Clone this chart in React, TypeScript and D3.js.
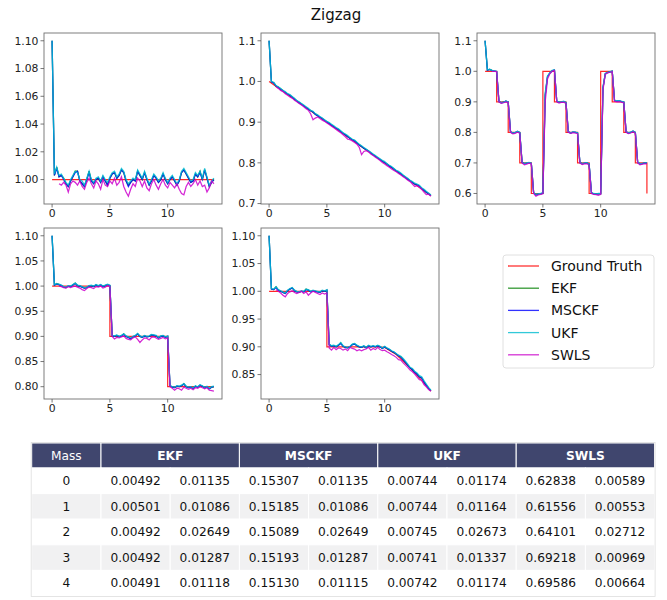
import React from 'react';
import * as d3 from 'd3';

// sample times shared by every estimate series (0 .. 14 s, 0.2 s apart)
const times = d3.range(71).map(i => +(i * 0.2).toFixed(1));

const seriesNames = ['Ground Truth', 'EKF', 'MSCKF', 'UKF', 'SWLS'];
const seriesColors = ['#ff0000', '#008000', '#0000ff', '#00bcd0', '#cc00cc'];

// ---- panel 1 : constant ----
const truth1T = [0, 14];
const truth1V = [1.0, 1.0];
const ukf1 = [
  1.100, 1.004, 1.009, 1.003, 1.004, 1.001, 0.998, 0.996, 1.000, 1.003,
  1.006, 1.005, 1.000, 0.999, 0.996, 1.001, 1.006, 1.000, 0.998, 1.001,
  1.002, 0.999, 1.003, 1.000, 0.998, 1.002, 1.005, 1.006, 1.002, 1.004,
  1.008, 1.006, 1.000, 0.997, 0.999, 1.001, 1.000, 1.007, 1.004, 1.001,
  1.006, 1.001, 0.997, 1.000, 1.004, 1.002, 0.999, 1.001, 1.005, 1.001,
  0.998, 1.001, 1.003, 1.000, 0.997, 1.000, 1.006, 1.008, 1.005, 1.002,
  0.999, 1.000, 1.005, 1.003, 1.006, 1.001, 1.008, 1.002, 0.996, 0.999,
  1.001];
const msckf1 = [
  1.100, 1.003, 1.008, 1.002, 1.003, 1.000, 0.997, 0.995, 0.999, 1.002,
  1.005, 1.006, 0.999, 0.997, 0.995, 1.000, 1.005, 0.999, 0.997, 1.000,
  1.001, 0.998, 1.002, 0.999, 0.996, 1.001, 1.004, 1.005, 1.001, 1.003,
  1.007, 1.005, 0.999, 0.995, 0.998, 1.000, 0.999, 1.006, 1.003, 1.000,
  1.005, 1.000, 0.996, 0.999, 1.003, 1.001, 0.998, 1.000, 1.004, 1.000,
  0.997, 1.000, 1.002, 0.999, 0.996, 0.999, 1.005, 1.007, 1.004, 1.001,
  0.998, 0.999, 1.004, 1.002, 1.005, 1.000, 1.007, 1.001, 0.995, 0.998,
  1.000];
const ekf1 = [
  1.100, 1.003, 1.009, 1.002, 1.003, 1.001, 0.997, 0.995, 0.999, 1.002,
  1.006, 1.006, 0.999, 0.997, 0.995, 1.000, 1.006, 0.999, 0.997, 1.000,
  1.001, 0.998, 1.002, 0.999, 0.996, 1.001, 1.004, 1.005, 1.001, 1.003,
  1.007, 1.005, 0.999, 0.996, 0.998, 1.000, 0.999, 1.006, 1.003, 1.000,
  1.005, 1.000, 0.996, 0.999, 1.003, 1.001, 0.998, 1.000, 1.004, 1.000,
  0.997, 1.000, 1.002, 0.999, 0.996, 0.999, 1.005, 1.007, 1.004, 1.001,
  0.998, 0.999, 1.004, 1.002, 1.006, 1.000, 1.007, 1.001, 0.995, 0.998,
  1.000];
const swls1 = [
  null, null, null, 0.997, 0.996, 0.998, 0.996, 0.991, 0.997, 0.999,
  0.998, 0.996, 0.999, 0.995, 0.993, 0.998, 1.001, 0.997, 0.994, 0.999,
  0.997, 0.993, 1.000, 0.996, 0.995, 0.999, 0.997, 1.001, 0.996, 0.998,
  1.002, 0.995, 0.991, 0.988, 0.993, 0.997, 0.995, 1.001, 0.999, 0.995,
  0.999, 0.994, 0.992, 0.997, 1.000, 0.996, 0.993, 0.997, 1.000, 0.996,
  0.994, 0.998, 0.996, 0.994, 0.997, 0.993, 0.990, 0.989, 0.995, 0.998,
  0.995, 0.997, 1.000, 0.996, 0.999, 0.995, 0.996, 0.991, 0.994, 0.999,
  0.997];

// ---- panel 2 : ramp ----
const truth2T = [0, 14];
const truth2V = [1.0, 0.72];
const ukf2 = [
  1.100, 1.000, 0.998, 0.990, 0.987, 0.983, 0.978, 0.975, 0.970, 0.968,
  0.963, 0.959, 0.953, 0.950, 0.946, 0.942, 0.938, 0.934, 0.929, 0.927,
  0.921, 0.918, 0.914, 0.910, 0.906, 0.902, 0.899, 0.895, 0.891, 0.887,
  0.884, 0.879, 0.874, 0.871, 0.867, 0.862, 0.858, 0.856, 0.851, 0.846,
  0.842, 0.838, 0.834, 0.830, 0.826, 0.822, 0.818, 0.814, 0.810, 0.806,
  0.803, 0.798, 0.794, 0.791, 0.786, 0.782, 0.779, 0.775, 0.770, 0.766,
  0.762, 0.757, 0.754, 0.750, 0.748, 0.745, 0.739, 0.735, 0.730, 0.726,
  0.721];
const msckf2 = [
  1.100, 0.999, 0.996, 0.989, 0.986, 0.981, 0.977, 0.973, 0.969, 0.966,
  0.961, 0.957, 0.952, 0.948, 0.944, 0.940, 0.936, 0.932, 0.928, 0.925,
  0.919, 0.916, 0.912, 0.909, 0.904, 0.900, 0.897, 0.893, 0.889, 0.885,
  0.882, 0.877, 0.873, 0.869, 0.865, 0.860, 0.857, 0.854, 0.849, 0.844,
  0.840, 0.836, 0.832, 0.829, 0.824, 0.820, 0.816, 0.812, 0.808, 0.804,
  0.801, 0.797, 0.792, 0.789, 0.785, 0.780, 0.777, 0.773, 0.768, 0.764,
  0.760, 0.756, 0.752, 0.748, 0.746, 0.743, 0.737, 0.733, 0.728, 0.724,
  0.720];
const ekf2 = [
  1.100, 0.999, 0.997, 0.989, 0.986, 0.982, 0.977, 0.973, 0.969, 0.966,
  0.962, 0.957, 0.952, 0.948, 0.945, 0.940, 0.936, 0.932, 0.928, 0.925,
  0.920, 0.916, 0.912, 0.909, 0.904, 0.901, 0.897, 0.893, 0.889, 0.885,
  0.882, 0.877, 0.873, 0.869, 0.865, 0.861, 0.857, 0.854, 0.849, 0.845,
  0.840, 0.836, 0.833, 0.829, 0.824, 0.820, 0.816, 0.812, 0.808, 0.804,
  0.801, 0.797, 0.793, 0.789, 0.785, 0.780, 0.777, 0.773, 0.769, 0.764,
  0.760, 0.756, 0.752, 0.748, 0.746, 0.743, 0.737, 0.733, 0.728, 0.724,
  0.720];
const swls2 = [
  null, null, null, 0.987, 0.983, 0.978, 0.975, 0.970, 0.966, 0.962,
  0.959, 0.954, 0.950, 0.946, 0.942, 0.938, 0.933, 0.929, 0.920, 0.906,
  0.910, 0.913, 0.909, 0.905, 0.902, 0.898, 0.894, 0.890, 0.886, 0.882,
  0.878, 0.874, 0.869, 0.864, 0.858, 0.857, 0.854, 0.850, 0.846, 0.838,
  0.820, 0.828, 0.830, 0.827, 0.822, 0.818, 0.814, 0.810, 0.806, 0.801,
  0.797, 0.793, 0.789, 0.785, 0.781, 0.778, 0.774, 0.770, 0.766, 0.762,
  0.757, 0.754, 0.748, 0.742, 0.744, 0.740, 0.735, 0.728, 0.722, 0.723,
  0.718];

// ---- panel 3 : zigzag ----
const truth3T = [0, 1, 1, 2, 2, 3, 3, 4, 4, 5, 5, 6, 6, 7, 7, 8, 8, 9, 9, 10, 10, 11, 11, 12, 12, 13, 13, 14, 14];
const truth3V = [1.0, 1.0, 0.9, 0.9, 0.8, 0.8, 0.7, 0.7, 0.6, 0.6, 1.0, 1.0, 0.9, 0.9, 0.8, 0.8, 0.7, 0.7, 0.6, 0.6, 1.0, 1.0, 0.9, 0.9, 0.8, 0.8, 0.7, 0.7, 0.6];
const ukf3 = [
  1.100, 1.005, 1.007, 1.003, 1.002, 1.000, 0.902, 0.898, 0.899, 0.903,
  0.900, 0.803, 0.798, 0.800, 0.804, 0.800, 0.703, 0.698, 0.700, 0.702,
  0.699, 0.603, 0.597, 0.599, 0.600, 0.603, 0.930, 0.985, 0.995, 1.003,
  1.005, 0.903, 0.899, 0.900, 0.902, 0.898, 0.803, 0.799, 0.802, 0.801,
  0.799, 0.702, 0.698, 0.700, 0.701, 0.697, 0.603, 0.600, 0.599, 0.600,
  0.600, 0.950, 0.993, 0.997, 0.999, 1.001, 0.905, 0.903, 0.904, 0.902,
  0.900, 0.803, 0.799, 0.801, 0.805, 0.800, 0.703, 0.697, 0.699, 0.700,
  0.700];
const msckf3 = [
  1.100, 1.004, 1.006, 1.002, 1.001, 0.999, 0.901, 0.897, 0.898, 0.902,
  0.899, 0.802, 0.797, 0.799, 0.803, 0.799, 0.702, 0.697, 0.699, 0.701,
  0.698, 0.602, 0.595, 0.598, 0.599, 0.601, 0.920, 0.982, 0.994, 1.002,
  1.004, 0.902, 0.898, 0.899, 0.901, 0.897, 0.802, 0.798, 0.801, 0.800,
  0.798, 0.701, 0.697, 0.699, 0.700, 0.696, 0.602, 0.599, 0.598, 0.599,
  0.599, 0.945, 0.992, 0.996, 0.998, 1.000, 0.904, 0.902, 0.903, 0.901,
  0.899, 0.802, 0.798, 0.800, 0.804, 0.799, 0.702, 0.696, 0.698, 0.699,
  0.699];
const ekf3 = [
  1.100, 1.004, 1.006, 1.003, 1.001, 0.999, 0.901, 0.897, 0.899, 0.902,
  0.899, 0.802, 0.797, 0.799, 0.803, 0.799, 0.702, 0.698, 0.699, 0.701,
  0.698, 0.602, 0.596, 0.598, 0.599, 0.601, 0.922, 0.983, 0.994, 1.002,
  1.004, 0.902, 0.898, 0.899, 0.901, 0.897, 0.802, 0.798, 0.801, 0.800,
  0.798, 0.701, 0.697, 0.699, 0.700, 0.696, 0.602, 0.599, 0.598, 0.599,
  0.599, 0.946, 0.992, 0.996, 0.998, 1.000, 0.904, 0.902, 0.903, 0.901,
  0.899, 0.802, 0.798, 0.800, 0.804, 0.799, 0.702, 0.696, 0.698, 0.699,
  0.699];
const swls3 = [
  null, null, null, 1.000, 1.000, 0.999, 0.900, 0.895, 0.897, 0.900,
  0.898, 0.800, 0.795, 0.797, 0.801, 0.797, 0.700, 0.694, 0.696, 0.699,
  0.697, 0.600, 0.591, 0.595, 0.597, 0.599, 0.900, 0.975, 0.992, 1.000,
  1.003, 0.900, 0.896, 0.898, 0.899, 0.895, 0.800, 0.797, 0.799, 0.798,
  0.796, 0.700, 0.695, 0.697, 0.698, 0.693, 0.600, 0.597, 0.596, 0.594,
  0.597, 0.940, 0.990, 0.995, 0.997, 0.999, 0.902, 0.900, 0.901, 0.899,
  0.897, 0.800, 0.796, 0.798, 0.802, 0.797, 0.700, 0.694, 0.696, 0.697,
  0.697];

// ---- panel 4 : two steps ----
const truth4T = [0, 5, 5, 10, 10, 14];
const truth4V = [1.0, 1.0, 0.9, 0.9, 0.8, 0.8];
const ukf4 = [
  1.100, 1.003, 1.005, 1.004, 1.002, 0.999, 0.998, 1.001, 1.000, 1.003,
  1.006, 1.002, 1.001, 0.999, 0.997, 0.998, 1.001, 1.002, 1.000, 1.003,
  1.001, 1.003, 1.000, 1.002, 1.004, 1.002, 0.902, 0.901, 0.903, 0.900,
  0.902, 0.905, 0.901, 0.899, 0.897, 0.900, 0.902, 0.906, 0.901, 0.899,
  0.902, 0.900, 0.901, 0.904, 0.903, 0.902, 0.898, 0.901, 0.902, 0.899,
  0.901, 0.803, 0.800, 0.799, 0.802, 0.801, 0.803, 0.806, 0.801, 0.799,
  0.800, 0.798, 0.802, 0.800, 0.804, 0.802, 0.799, 0.801, 0.797, 0.800,
  0.801];
const msckf4 = [
  1.100, 1.002, 1.004, 1.003, 1.001, 0.998, 0.997, 1.000, 0.999, 1.002,
  1.005, 1.001, 1.000, 0.998, 0.996, 0.997, 1.000, 1.001, 0.999, 1.002,
  1.000, 1.002, 0.999, 1.001, 1.003, 1.001, 0.901, 0.900, 0.902, 0.899,
  0.901, 0.904, 0.900, 0.898, 0.895, 0.899, 0.901, 0.905, 0.900, 0.898,
  0.901, 0.899, 0.900, 0.903, 0.902, 0.901, 0.897, 0.900, 0.901, 0.898,
  0.900, 0.802, 0.799, 0.798, 0.801, 0.800, 0.802, 0.805, 0.800, 0.798,
  0.799, 0.797, 0.801, 0.799, 0.803, 0.801, 0.798, 0.800, 0.796, 0.799,
  0.800];
const ekf4 = [
  1.100, 1.002, 1.005, 1.003, 1.001, 0.998, 0.997, 1.000, 0.999, 1.002,
  1.006, 1.001, 1.000, 0.998, 0.996, 0.997, 1.000, 1.001, 0.999, 1.002,
  1.000, 1.002, 0.999, 1.001, 1.003, 1.001, 0.901, 0.900, 0.902, 0.899,
  0.901, 0.905, 0.900, 0.898, 0.896, 0.899, 0.901, 0.905, 0.900, 0.898,
  0.901, 0.899, 0.900, 0.903, 0.902, 0.901, 0.897, 0.900, 0.901, 0.898,
  0.900, 0.802, 0.799, 0.798, 0.801, 0.800, 0.802, 0.806, 0.800, 0.798,
  0.799, 0.797, 0.801, 0.799, 0.803, 0.801, 0.798, 0.800, 0.796, 0.799,
  0.800];
const swls4 = [
  null, null, null, 1.000, 0.999, 0.997, 0.996, 0.999, 0.997, 0.999,
  1.000, 0.998, 0.996, 0.993, 0.991, 0.995, 0.998, 0.997, 0.995, 0.999,
  0.998, 1.000, 0.996, 0.998, 1.001, 0.999, 0.900, 0.895, 0.898, 0.897,
  0.899, 0.901, 0.896, 0.894, 0.893, 0.897, 0.899, 0.894, 0.888, 0.893,
  0.897, 0.896, 0.893, 0.898, 0.899, 0.897, 0.894, 0.896, 0.898, 0.895,
  0.897, 0.800, 0.797, 0.793, 0.797, 0.796, 0.793, 0.799, 0.797, 0.795,
  0.797, 0.794, 0.798, 0.797, 0.800, 0.798, 0.796, 0.798, 0.793, 0.792,
  0.791];

// ---- panel 5 : step then curve down ----
const truth5T = [0, 5, 5, 9.5, 10, 11, 12, 13, 14];
const truth5V = [1.0, 1.0, 0.9, 0.9, 0.899, 0.886, 0.866, 0.844, 0.82];
const ukf5 = [
  1.100, 1.005, 1.004, 1.008, 1.003, 1.001, 0.999, 0.997, 1.002, 1.005,
  1.007, 1.002, 1.000, 0.999, 1.001, 1.000, 1.004, 1.003, 1.000, 1.002,
  1.001, 1.000, 0.999, 1.002, 1.001, 1.003, 0.905, 0.902, 0.903, 0.901,
  0.904, 0.908, 0.902, 0.900, 0.899, 0.901, 0.905, 0.906, 0.903, 0.901,
  0.900, 0.902, 0.899, 0.903, 0.901, 0.902, 0.901, 0.903, 0.901, 0.898,
  0.901, 0.898, 0.896, 0.893, 0.891, 0.888, 0.885, 0.883, 0.879, 0.874,
  0.869, 0.863, 0.861, 0.856, 0.853, 0.848, 0.846, 0.839, 0.833, 0.827,
  0.822];
const msckf5 = [
  1.100, 1.004, 1.003, 1.007, 1.002, 1.000, 0.998, 0.996, 1.001, 1.004,
  1.006, 1.001, 0.999, 0.998, 1.000, 0.999, 1.003, 1.002, 0.999, 1.001,
  1.000, 0.999, 0.998, 1.001, 1.000, 1.002, 0.904, 0.901, 0.902, 0.900,
  0.903, 0.906, 0.901, 0.899, 0.898, 0.900, 0.904, 0.905, 0.902, 0.900,
  0.899, 0.901, 0.898, 0.902, 0.900, 0.901, 0.900, 0.902, 0.900, 0.897,
  0.900, 0.897, 0.895, 0.892, 0.890, 0.887, 0.884, 0.881, 0.877, 0.872,
  0.867, 0.862, 0.859, 0.854, 0.851, 0.846, 0.844, 0.837, 0.831, 0.825,
  0.821];
const ekf5 = [
  1.100, 1.004, 1.003, 1.008, 1.002, 1.000, 0.998, 0.996, 1.001, 1.004,
  1.006, 1.001, 0.999, 0.998, 1.000, 0.999, 1.004, 1.002, 0.999, 1.001,
  1.000, 0.999, 0.998, 1.001, 1.000, 1.002, 0.904, 0.901, 0.902, 0.900,
  0.903, 0.907, 0.901, 0.899, 0.898, 0.900, 0.904, 0.905, 0.902, 0.900,
  0.899, 0.901, 0.898, 0.902, 0.900, 0.901, 0.900, 0.902, 0.900, 0.897,
  0.900, 0.897, 0.895, 0.892, 0.890, 0.887, 0.884, 0.882, 0.877, 0.872,
  0.867, 0.862, 0.859, 0.854, 0.851, 0.846, 0.844, 0.837, 0.831, 0.825,
  0.821];
const swls5 = [
  null, null, null, 1.003, 1.000, 0.997, 0.993, 0.990, 0.996, 0.999,
  1.001, 0.998, 0.996, 0.998, 1.000, 0.996, 0.999, 0.993, 0.997, 1.000,
  0.998, 0.996, 0.994, 0.997, 0.995, 0.997, 0.898, 0.894, 0.899, 0.895,
  0.898, 0.897, 0.894, 0.896, 0.893, 0.899, 0.897, 0.896, 0.893, 0.895,
  0.893, 0.895, 0.896, 0.899, 0.894, 0.897, 0.895, 0.899, 0.895, 0.893,
  0.894, 0.891, 0.889, 0.886, 0.884, 0.881, 0.877, 0.876, 0.871, 0.867,
  0.863, 0.858, 0.855, 0.851, 0.846, 0.841, 0.840, 0.832, 0.828, 0.823,
  0.820];

const xTicks = [0, 5, 10];
const yTicks1 = [1.00, 1.02, 1.04, 1.06, 1.08, 1.10];
const yTicks2 = [0.7, 0.8, 0.9, 1.0, 1.1];
const yTicks3 = [0.6, 0.7, 0.8, 0.9, 1.0, 1.1];
const yTicks4 = [0.80, 0.85, 0.90, 0.95, 1.00, 1.05, 1.10];
const yTicks5 = [0.85, 0.90, 0.95, 1.00, 1.05, 1.10];

// ---- table ----
const tableHeader = ['EKF', 'MSCKF', 'UKF', 'SWLS'];
const massLabels = ['0', '1', '2', '3', '4'];
const tableValues = [
  ['0.00492', '0.01135', '0.15307', '0.01135', '0.00744', '0.01174', '0.62838', '0.00589'],
  ['0.00501', '0.01086', '0.15185', '0.01086', '0.00744', '0.01164', '0.61556', '0.00553'],
  ['0.00492', '0.02649', '0.15089', '0.02649', '0.00745', '0.02673', '0.64101', '0.02712'],
  ['0.00492', '0.01287', '0.15193', '0.01287', '0.00741', '0.01337', '0.69218', '0.00969'],
  ['0.00491', '0.01118', '0.15130', '0.01115', '0.00742', '0.01174', '0.69586', '0.00664'],
];

const panels = [
  { truthT: truth1T, truthV: truth1V, est: [ekf1, msckf1, ukf1, swls1], yTicks: yTicks1, fmt: '.2f' },
  { truthT: truth2T, truthV: truth2V, est: [ekf2, msckf2, ukf2, swls2], yTicks: yTicks2, fmt: '.1f' },
  { truthT: truth3T, truthV: truth3V, est: [ekf3, msckf3, ukf3, swls3], yTicks: yTicks3, fmt: '.1f' },
  { truthT: truth4T, truthV: truth4V, est: [ekf4, msckf4, ukf4, swls4], yTicks: yTicks4, fmt: '.2f' },
  { truthT: truth5T, truthV: truth5V, est: [ekf5, msckf5, ukf5, swls5], yTicks: yTicks5, fmt: '.2f' },
];

const FONT = 'DejaVu Sans, sans-serif';
const colX = [44, 261, 477];
const rowY = [33, 228];
const PW = 178;
const PH = 171;

const Panel = ({ p, x0, y0 }: any) => {
  const allVals: number[] = [...p.truthV];
  p.est.forEach((s: (number | null)[]) => s.forEach(v => { if (v != null) allVals.push(v); }));
  const [ymin, ymax] = d3.extent(allVals) as [number, number];
  const ypad = (ymax - ymin) * 0.05;
  const x = d3.scaleLinear().domain([-0.7, 14.7]).range([0, PW]);
  const y = d3.scaleLinear().domain([ymin - ypad, ymax + ypad]).range([PH, 0]);
  const fmt = d3.format(p.fmt);

  const line = d3.line<[number, number | null]>()
    .defined(d => d[1] != null)
    .x(d => x(d[0]))
    .y(d => y(d[1] as number));

  const truthPts = p.truthT.map((t: number, i: number) => [t, p.truthV[i]] as [number, number]);

  return (
    <g transform={`translate(${x0},${y0})`}>
      <path d={line(truthPts) || ''} fill="none" stroke={seriesColors[0]} strokeWidth={1.2} opacity={0.85} />
      {p.est.map((s: (number | null)[], k: number) => (
        <path key={k}
          d={line(times.map((t, i) => [t, s[i]] as [number, number | null])) || ''}
          fill="none" stroke={seriesColors[k + 1]} strokeWidth={1.25} opacity={0.85} />
      ))}
      <rect x={0} y={0} width={PW} height={PH} fill="none" stroke="#707070" strokeWidth={0.9} />
      {xTicks.map(t => (
        <g key={t} transform={`translate(${x(t)},${PH})`}>
          <line y2={3.5} stroke="#555" strokeWidth={0.8} />
          <text y={5.5} dy="0.71em" textAnchor="middle" fontSize={10.8} fontFamily={FONT} fill="#222">{t}</text>
        </g>
      ))}
      {p.yTicks.map((t: number) => (
        <g key={t} transform={`translate(0,${y(t)})`}>
          <line x2={-3.5} stroke="#555" strokeWidth={0.8} />
          <text x={-5.5} dy="0.35em" textAnchor="end" fontSize={10.8} fontFamily={FONT} fill="#222">{fmt(t)}</text>
        </g>
      ))}
    </g>
  );
};

const Legend = () => {
  const lx = 503, ly = 255;
  return (
    <g>
      <rect x={lx} y={ly} width={151} height={113} rx={3} fill="#fff" stroke="#dcdcdc" strokeWidth={0.9} />
      {seriesNames.map((n, i) => {
        const cy = ly + 11 + i * 22.2;
        return (
          <g key={n}>
            <line x1={508} x2={539} y1={cy} y2={cy} stroke={seriesColors[i]} strokeWidth={1.3} opacity={0.8} />
            <text x={551} y={cy} dy="0.35em" fontSize={14} fontFamily={FONT} fill="#111">{n}</text>
          </g>
        );
      })}
    </g>
  );
};

const Table = () => {
  const tx = 31.7, ty = 443, headH = 25, rowH = 25.6, massW = 69.3, colW = 69.2;
  const totalW = massW + colW * 8;
  return (
    <g fontFamily={FONT} fontSize={12.2}>
      <rect x={tx} y={ty} width={massW} height={headH} fill="#40466e" stroke="#fff" strokeWidth={1} />
      <text x={tx + massW / 2} y={ty + headH / 2} dy="0.35em" textAnchor="middle" fill="#fff">Mass</text>
      {tableHeader.map((h, i) => {
        const gx = tx + massW + i * colW * 2;
        return (
          <g key={h}>
            <rect x={gx} y={ty} width={colW * 2} height={headH} fill="#40466e" stroke="#fff" strokeWidth={1} />
            <text x={gx + colW} y={ty + headH / 2} dy="0.35em" textAnchor="middle" fill="#fff" fontWeight="bold">{h}</text>
          </g>
        );
      })}
      {massLabels.map((m, r) => {
        const ry = ty + headH + r * rowH;
        const bg = r % 2 === 0 ? '#ffffff' : '#f1f1f2';
        return (
          <g key={m}>
            <rect x={tx} y={ry} width={massW} height={rowH} fill={bg} stroke="#fff" strokeWidth={1} />
            <text x={tx + massW / 2} y={ry + rowH / 2} dy="0.35em" textAnchor="middle" fill="#111">{m}</text>
            {tableValues[r].map((v, c) => {
              const cx = tx + massW + c * colW;
              return (
                <g key={c}>
                  <rect x={cx} y={ry} width={colW} height={rowH} fill={bg} stroke="#fff" strokeWidth={1} />
                  <text x={cx + colW / 2} y={ry + rowH / 2} dy="0.35em" textAnchor="middle" fill="#111">{v}</text>
                </g>
              );
            })}
          </g>
        );
      })}
      <rect x={tx - 0.5} y={ty - 0.5} width={totalW + 1} height={headH + rowH * 5 + 1} fill="none" stroke="#dedede" strokeWidth={0.8} />
    </g>
  );
};

export default function App() {
  return (
    <svg width={667} height={600} style={{ position: 'absolute', left: 0, top: 0, background: '#fff' }}>
      <rect width={667} height={600} fill="#fff" />
      <text x={336} y={20} textAnchor="middle" fontSize={15} fontFamily={FONT} fill="#111">Zigzag</text>
      {panels.map((p, i) => (
        <Panel key={i} p={p} x0={colX[i % 3]} y0={rowY[Math.floor(i / 3)]} />
      ))}
      <Legend />
      <Table />
    </svg>
  );
}
